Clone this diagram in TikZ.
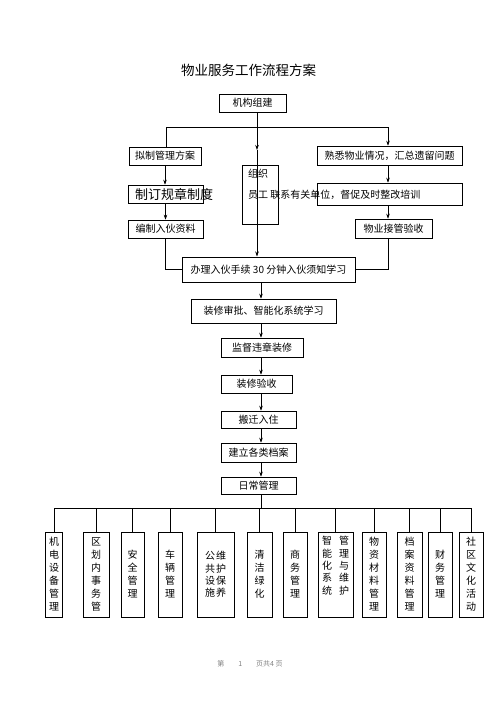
\documentclass[tikz,border=0pt]{standalone}
\usepackage{fontspec}
\setmainfont{Noto Sans CJK SC}
\usetikzlibrary{arrows.meta}
\begin{document}
\begin{tikzpicture}[x=1pt,y=-1pt,
  box/.style={draw, line width=0.6pt, inner sep=0pt, font=\fontsize{10}{12}\selectfont},
  col/.style={draw, line width=0.6pt, inner sep=0pt, align=center, minimum height=85pt, font=\fontsize{10}{13}\selectfont},
  lbl/.style={anchor=west, inner sep=0pt, font=\fontsize{10}{12}\selectfont},
  conn/.style={line width=0.6pt},
  arr/.style={line width=0.6pt, -{Stealth[length=5pt,width=3.5pt]}}]
\useasboundingbox (0,0) rectangle (500,707);
% title
\node[font=\fontsize{13.5}{14}\selectfont] (title) at (248.5,70) {物业服务工作流程方案};
% top part
\node[box, minimum width=67pt, minimum height=18pt] (jg) at (252.5,103) {机构组建};
\node[box, minimum width=72pt, minimum height=18pt] (nz) at (165,156) {拟制管理方案};
\node[box, minimum width=145pt, minimum height=19pt] (sx) at (389.5,155.5) {熟悉物业情况，汇总遗留问题};
\node[box, minimum width=36pt, minimum height=59pt] (zz) at (260,194.5) {};
\node[box, minimum width=75pt, minimum height=18pt] (zd) at (165.5,194) {};
\node[box, minimum width=145pt, minimum height=22pt] (yg) at (389.5,194) {};
\node[box, minimum width=75pt, minimum height=18pt] (bz) at (165.5,229) {编制入伙资料};
\node[box, minimum width=77pt, minimum height=19pt] (wy) at (393.5,228.5) {物业接管验收};
\node[lbl] (zzt) at (248,174) {组织};
\node[lbl] (ygt) at (248,195) {员工 联系有关单位，督促及时整改培训};
\node[anchor=west, inner sep=0pt, font=\fontsize{13}{13}\selectfont] (zdt) at (135,194.5) {制订规章制度};
\node[box, line width=1pt, minimum width=173pt, minimum height=25pt] (bl) at (268.5,269.5) {办理入伙手续 30 分钟入伙须知学习};
% chain
\node[box, minimum width=145pt, minimum height=24pt] (zx) at (263.5,311) {装修审批、智能化系统学习};
\node[box, minimum width=82pt, minimum height=19pt] (jd) at (262,347.5) {监督违章装修};
\node[box, minimum width=71pt, minimum height=18pt] (ys) at (256.5,384) {装修验收};
\node[box, minimum width=75pt, minimum height=17pt] (bq) at (258.5,419.5) {搬迁入住};
\node[box, minimum width=75pt, minimum height=19pt] (da) at (258.5,452.5) {建立各类档案};
\node[box, minimum width=75pt, minimum height=17pt] (rc) at (258.5,485.5) {日常管理};
% bottom columns
\node[col, minimum width=17pt] (c1) at (54,574.5) {机\\电\\设\\备\\管\\理};
\node[col, minimum width=26pt] (c2) at (96,574.5) {区\\划\\内\\事\\务\\管};
\node[col, minimum width=23pt] (c3) at (132.5,574.5) {安\\全\\管\\理};
\node[col, minimum width=24pt] (c4) at (170,574.5) {车\\辆\\管\\理};
\node[col, minimum width=37pt, font=\fontsize{10}{12.3}\selectfont] (c5) at (215.5,574.5) {公\hspace{1pt}维\\共\hspace{1pt}护\\设\hspace{1pt}保\\施\hspace{1pt}养};
\node[col, minimum width=25pt] (c6) at (259.5,574.5) {清\\洁\\绿\\化};
\node[col, minimum width=24pt] (c7) at (295,574.5) {商\\务\\管\\理};
\node[col, minimum width=35pt, font=\fontsize{10}{12.3}\selectfont] (c8) at (335.5,574.5) {智\hspace{7pt}管\\能\hspace{7pt}理\\化\hspace{7pt}与\\系\hspace{7pt}维\\统\hspace{7pt}护\\[6pt]};
\node[col, minimum width=24pt] (c9) at (374,574.5) {物\\资\\材\\料\\管\\理};
\node[col, minimum width=25pt] (c10) at (409.5,574.5) {档\\案\\资\\料\\管\\理};
\node[col, minimum width=24pt] (c11) at (440,574.5) {财\\务\\管\\理};
\node[col, minimum width=24pt] (c12) at (471,574.5) {社\\区\\文\\化\\活\\动};
% footer
\node[font=\fontsize{7}{8}\selectfont, text=gray] (ft) at (250,664) {第\hspace{14pt}1\hspace{14pt}页共4 页};
% coordinates
\coordinate (cA) at (257,150);
\coordinate (hl) at (166,127);
\coordinate (hr) at (388,127);
\coordinate (rx) at (388,0);
\coordinate (sp) at (261,0);
\coordinate (bus) at (0,508);
% connectors top
\draw[arr] (jg.south -| cA) -- (cA);
\draw[arr] (cA) -- (bl.north -| cA);
\draw[conn] (nz.north -| hl) |- (hr);
\draw[arr] (hr) -- (sx.north -| hr);
\draw[arr] (nz.south) -- (nz.south |- zd.north);
\draw[arr] (zd.south) -- (zd.south |- bz.north);
\draw[conn] (bz.south) |- (bl.west);
\draw[arr] (sx.south -| rx) -- (yg.north -| rx);
\draw[arr] (yg.south -| rx) -- (wy.north -| rx);
\draw[conn] (wy.south -| rx) |- (bl.east);
% spine
\draw[arr] (bl.south -| sp) -- (zx.north -| sp);
\draw[arr] (zx.south -| sp) -- (jd.north -| sp);
\draw[arr] (jd.south -| sp) -- (ys.north -| sp);
\draw[arr] (ys.south -| sp) -- (bq.north -| sp);
\draw[arr] (bq.south -| sp) -- (da.north -| sp);
\draw[arr] (da.south -| sp) -- (rc.north -| sp);
\draw[conn] (rc.south -| sp) -- (bus -| sp);
\draw[conn] (c1.north |- bus) -- (c12.north |- bus);
\foreach \i in {1,...,12} \draw[conn] (c\i.north |- bus) -- (c\i.north);
\end{tikzpicture}
\end{document}
